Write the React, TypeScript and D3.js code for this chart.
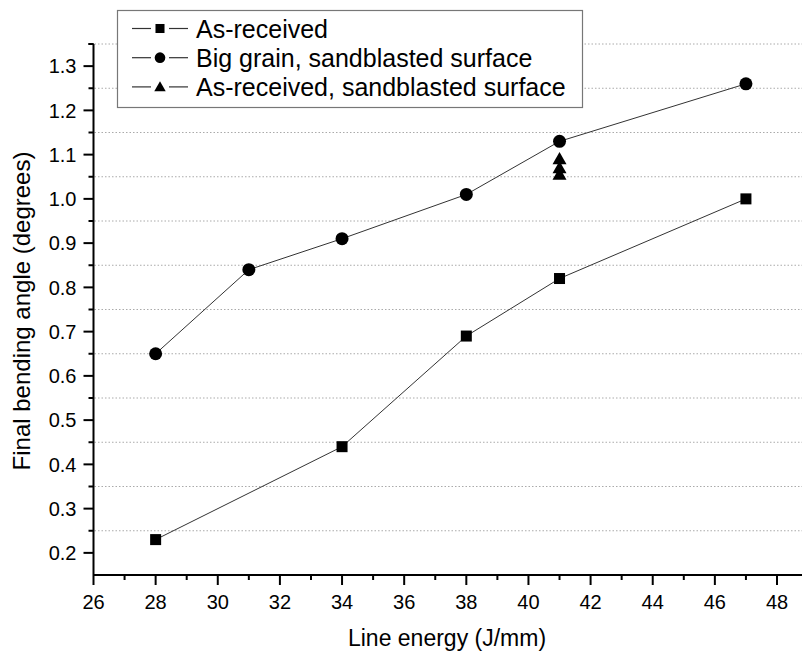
import React from "react";
import * as d3 from "d3";

const asReceivedX = [28, 34, 38, 41, 47];
const asReceivedY = [0.23, 0.44, 0.69, 0.82, 1.0];
const bigGrainX = [28, 31, 34, 38, 41, 47];
const bigGrainY = [0.65, 0.84, 0.91, 1.01, 1.13, 1.26];
const sandX = [41, 41, 41];
const sandY = [1.09, 1.07, 1.055];
const xTicks = [26, 28, 30, 32, 34, 36, 38, 40, 42, 44, 46, 48];
const yTicks = [0.2, 0.3, 0.4, 0.5, 0.6, 0.7, 0.8, 0.9, 1.0, 1.1, 1.2, 1.3];
const legendLabels = ["As-received", "Big grain, sandblasted surface", "As-received, sandblasted surface"];

const W = 802;
const H = 654;
const font = "Arial, 'Liberation Sans', sans-serif";

export default function App() {
  const x = d3.scaleLinear().domain([26, 48]).range([93.5, 777]);
  const y = d3.scaleLinear().domain([0.15, 1.35]).range([575, 44]);
  const xMinor = d3.range(27, 50, 2);
  const yMinor = d3.range(0, 12).map((i) => +(0.25 + i * 0.1).toFixed(2));
  const line = d3.line<[number, number]>().x((d) => x(d[0])).y((d) => y(d[1]));
  const sqPts: [number, number][] = asReceivedX.map((v, i) => [v, asReceivedY[i]]);
  const cPts: [number, number][] = bigGrainX.map((v, i) => [v, bigGrainY[i]]);
  const triPath = (cx: number, cy: number, s: number) =>
    `M${cx},${cy - s}L${cx + s},${cy + s * 0.75}L${cx - s},${cy + s * 0.75}Z`;
  const marker = (kind: number, cx: number, cy: number, key: string, sc = 1) => {
    if (kind === 0) return <rect key={key} x={cx - 5.5 * sc} y={cy - 5.5 * sc} width={11 * sc} height={11 * sc} fill="#000" />;
    if (kind === 1) return <circle key={key} cx={cx} cy={cy} r={6.5 * sc} fill="#000" />;
    return <path key={key} d={triPath(cx, cy, 7 * sc)} fill="#000" />;
  };
  const x0 = x.range()[0];
  const yb = y.range()[0];
  return (
    <svg width={W} height={H} style={{ position: "absolute", left: 0, top: 0, background: "#fff" }} fontFamily={font}>
      <rect width={W} height={H} fill="#fff" />
      {yMinor.map((v) => (
        <line key={"g" + v} x1={x0 + 1} x2={W} y1={y(v)} y2={y(v)} stroke="#aaa" strokeWidth={1} strokeDasharray="1.5,2" />
      ))}
      <path d={line(sqPts) || ""} fill="none" stroke="#333" strokeWidth={1} />
      <path d={line(cPts) || ""} fill="none" stroke="#333" strokeWidth={1} />
      {sqPts.map((p, i) => marker(0, x(p[0]), y(p[1]), "s" + i))}
      {cPts.map((p, i) => marker(1, x(p[0]), y(p[1]), "c" + i))}
      {sandX.map((v, i) => marker(2, x(v), y(sandY[i]), "t" + i))}
      <line x1={x0} x2={x0} y1={y(1.35)} y2={yb} stroke="#000" strokeWidth={2} />
      <line x1={x0} x2={W + 10} y1={yb} y2={yb} stroke="#000" strokeWidth={2} />
      {yTicks.map((v) => (
        <g key={"yt" + v}>
          <line x1={x0 - 10} x2={x0} y1={y(v)} y2={y(v)} stroke="#000" strokeWidth={2} />
          <text x={x0 - 17} y={y(v)} dy="0.36em" textAnchor="end" fontSize={20} fill="#000">
            {v.toFixed(1)}
          </text>
        </g>
      ))}
      {[...yMinor, 1.35].map((v) => (
        <line key={"ym" + v} x1={x0 - 5} x2={x0} y1={y(v)} y2={y(v)} stroke="#000" strokeWidth={2} />
      ))}
      {xTicks.map((v) => (
        <g key={"xt" + v}>
          <line x1={x(v)} x2={x(v)} y1={yb} y2={yb + 10} stroke="#000" strokeWidth={2} />
          <text x={x(v)} y={609} textAnchor="middle" fontSize={20} fill="#000">
            {v}
          </text>
        </g>
      ))}
      {xMinor.map((v) => (
        <line key={"xm" + v} x1={x(v)} x2={x(v)} y1={yb} y2={yb + 5} stroke="#000" strokeWidth={2} />
      ))}
      <text x={447} y={646} textAnchor="middle" fontSize={23} fill="#000">
        Line energy (J/mm)
      </text>
      <text transform={`translate(30,311) rotate(-90)`} textAnchor="middle" fontSize={24} fill="#000">
        Final bending angle (degrees)
      </text>
      <rect x={117.5} y={10.5} width={465} height={97} fill="#fff" stroke="#777" strokeWidth={1.2} />
      {legendLabels.map((lab, i) => {
        const cy = 28.5 + i * 29.2;
        return (
          <g key={"lg" + i}>
            <line x1={132} x2={151} y1={cy} y2={cy} stroke="#333" strokeWidth={1.2} />
            <line x1={169} x2={188} y1={cy} y2={cy} stroke="#333" strokeWidth={1.2} />
            {marker(i, 160, cy, "lm" + i, 0.82)}
            <text x={196} y={cy} dy="0.36em" fontSize={25} fill="#000">
              {lab}
            </text>
          </g>
        );
      })}
    </svg>
  );
}
